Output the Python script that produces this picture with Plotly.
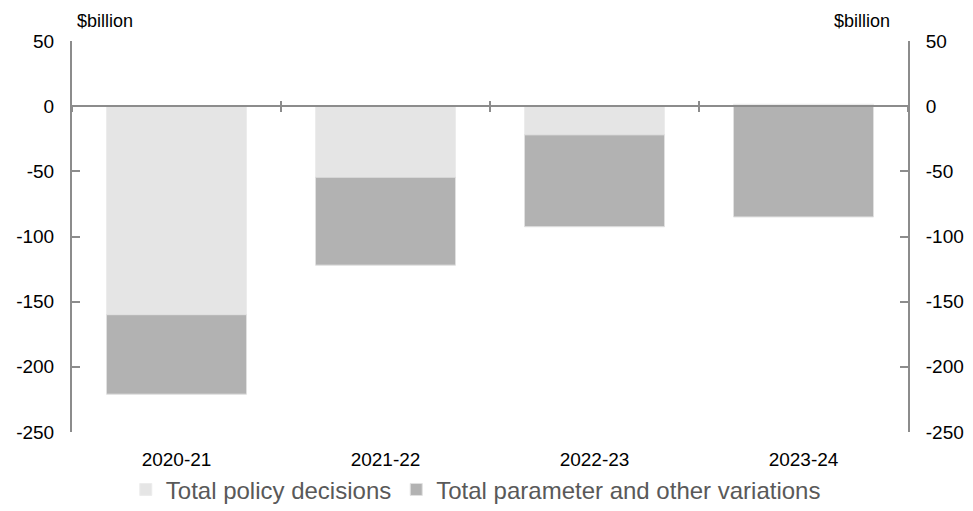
import plotly.graph_objects as go

categories = ["2020-21", "2021-22", "2022-23", "2023-24"]
policy = [-160, -54.5, -22, 1.5]
parameter = [-61, -67.5, -70.5, -85]
y_tick_vals = [50, 0, -50, -100, -150, -200, -250]
y_tick_text = ["50", "0", "-50", "-100", "-150", "-200", "-250"]

FONT = "Liberation Sans, Arial, sans-serif"
AXIS_COL = "#8c8c8c"

fig = go.Figure()
fig.add_trace(go.Bar(x=categories, y=policy, name="Total policy decisions",
                     marker=dict(color="#e5e5e5", line=dict(color="#ececec", width=1))))
fig.add_trace(go.Bar(x=categories, y=parameter, name="Total parameter and other variations",
                     marker=dict(color="#b2b2b2", line=dict(color="#e0e0e0", width=1))))
# invisible carriers so the overlay axes (zero line ticks, right axis) are drawn
for xa in ["x2", "x3"]:
    fig.add_trace(go.Scatter(x=categories, y=parameter, xaxis=xa, yaxis="y2",
                             mode="markers", marker=dict(opacity=0), showlegend=False,
                             hoverinfo="skip"))

yax = dict(range=[-250, 50], tickvals=y_tick_vals, ticktext=y_tick_text,
           showgrid=False, zeroline=False, automargin=False,
           showline=True, linecolor=AXIS_COL, linewidth=2, ticks="inside",
           ticklen=8, tickwidth=2, tickcolor=AXIS_COL,
           tickfont=dict(size=19, color="#000", family=FONT), ticklabelstandoff=12)

xov = dict(overlaying="x", matches="x", anchor="free", position=250/300,
           tickson="boundaries", ticklen=5, tickwidth=2, tickcolor=AXIS_COL,
           showticklabels=False, showgrid=False, zeroline=False, automargin=False,
           categoryorder="array", categoryarray=categories)

fig.update_layout(
    width=965, height=503,
    margin=dict(l=64, r=65, t=33, b=79, autoexpand=False),
    paper_bgcolor="white", plot_bgcolor="white",
    barmode="relative", bargap=0.33,
    font=dict(family=FONT, color="#000"),
    xaxis=dict(categoryorder="array", categoryarray=categories, showline=False,
               showgrid=False, ticks="", automargin=False, ticklabelstandoff=14,
               tickfont=dict(size=19, family=FONT, color="#000"),
               range=[-0.5, 3.5]),
    xaxis2=dict(**xov, showline=True, linecolor=AXIS_COL, linewidth=2, ticks="outside"),
    xaxis3=dict(**xov, showline=False, ticks="inside"),
    yaxis=dict(**yax, side="left"),
    yaxis2=dict(**yax, side="right", overlaying="y", matches="y", anchor="x"),
    legend=dict(orientation="h", x=0.483, xanchor="center", y=-0.148, yanchor="middle",
                bgcolor="rgba(0,0,0,0)",
                font=dict(size=24, color="#595959", family=FONT), traceorder="normal",
                itemwidth=30),
    showlegend=True,
    annotations=[
        dict(text="$billion", xref="paper", yref="paper", x=0.003, y=1.05,
             xanchor="left", yanchor="middle", showarrow=False,
             font=dict(size=18, color="#000", family=FONT)),
        dict(text="$billion", xref="paper", yref="paper", x=0.981, y=1.05,
             xanchor="right", yanchor="middle", showarrow=False,
             font=dict(size=18, color="#000", family=FONT)),
    ],
)

fig.write_html("out.html")
